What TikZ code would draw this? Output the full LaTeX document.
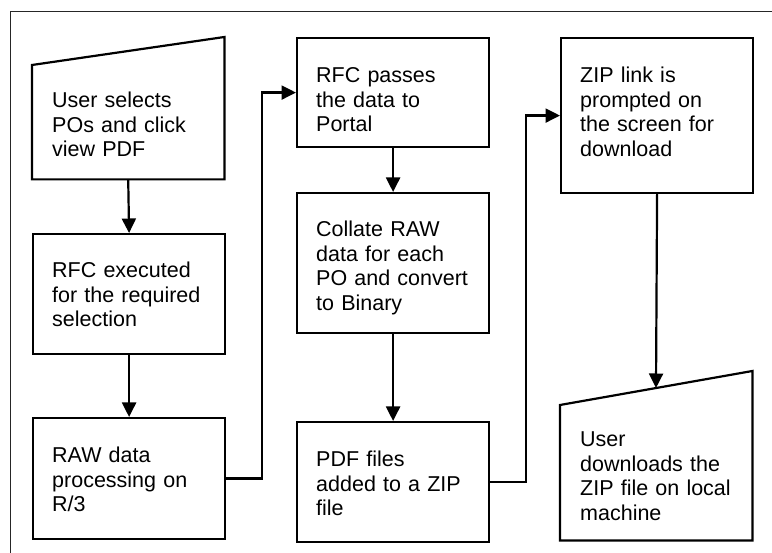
\documentclass[tikz,border=0pt]{standalone}
\usepackage{fontspec}
\setmainfont{Liberation Sans}
\usetikzlibrary{arrows.meta,calc}
\begin{document}
\begin{tikzpicture}[x=1pt,y=-1pt,
  box/.style={draw, line width=2.2pt, inner sep=0pt, minimum width=192pt, anchor=north west},
  shapebox/.style={draw=none, inner sep=0pt, minimum width=192pt, anchor=north west},
  slant/.style={line width=2.2pt, line join=miter},
  lbl/.style={anchor=base west, inner sep=0pt, text width=172pt, align=left,
    font=\fontsize{21.5}{24.5}\selectfont},
  conn/.style={line width=2.2pt, -{Triangle[length=14.5pt,width=14pt]}},
  frame/.style={line width=1.8pt, black!85}]
\useasboundingbox (0,0) rectangle (772,553);
\draw[frame] (10.5,553) -- (10.5,11.5) -- (772,11.5);
% boxes
\node[shapebox, minimum height=142pt] (b1) at (32,37) {};
\draw[slant] (b1.south west) -- (b1.south east) -- (b1.north east) -- ($(b1.north west)+(0,28)$) -- cycle;
\node[box, minimum height=120pt] (b2) at (32,233) {};
\node[box, minimum height=121pt] (b3) at (32,417) {};
\node[box, minimum height=109pt] (b4) at (296,37) {};
\node[box, minimum height=140pt] (b5) at (296,192) {};
\node[box, minimum height=120pt] (b6) at (296,421) {};
\node[box, minimum height=155pt] (b7) at (560,37) {};
\node[shapebox, minimum height=169pt] (b8) at (560,371) {};
\draw[slant] (b8.south west) -- (b8.south east) -- (b8.north east) -- ($(b8.north west)+(0,34)$) -- cycle;
\coordinate (b8in) at ($(b8.north west)+(96,17)$);
% labels
\node[lbl] (t1) at (52,107.7) {User selects\\POs and click\\view PDF};
\node[lbl] (t2) at (52,278) {RFC executed\\for the required\\selection};
\node[lbl] (t3) at (52,463) {RAW data\\processing on\\R/3};
\node[lbl] (t4) at (316,83) {RFC passes\\the data to\\Portal};
\node[lbl] (t5) at (316,237) {Collate RAW\\data for each\\PO and convert\\to Binary};
\node[lbl] (t6) at (316,467) {PDF files\\added to a ZIP\\file};
\node[lbl] (t7) at (580,82.7) {ZIP link is\\prompted on\\the screen for\\download};
\node[lbl] (t8) at (580,447) {User\\downloads the\\ZIP file on local\\machine};
% connectors
\draw[conn] (b1.south) -- (b2.north);
\draw[conn] (b2.south) -- (b3.north);
\draw[conn] (b3.east) -- ++(36,0) |- (b4.west);
\draw[conn] (b4.south) -- (b5.north);
\draw[conn] (b5.south) -- (b6.north);
\draw[conn] (b6.east) -- ++(36,0) |- (b7.west);
\draw[conn] (b7.south) -- (b8in);
\end{tikzpicture}
\end{document}
